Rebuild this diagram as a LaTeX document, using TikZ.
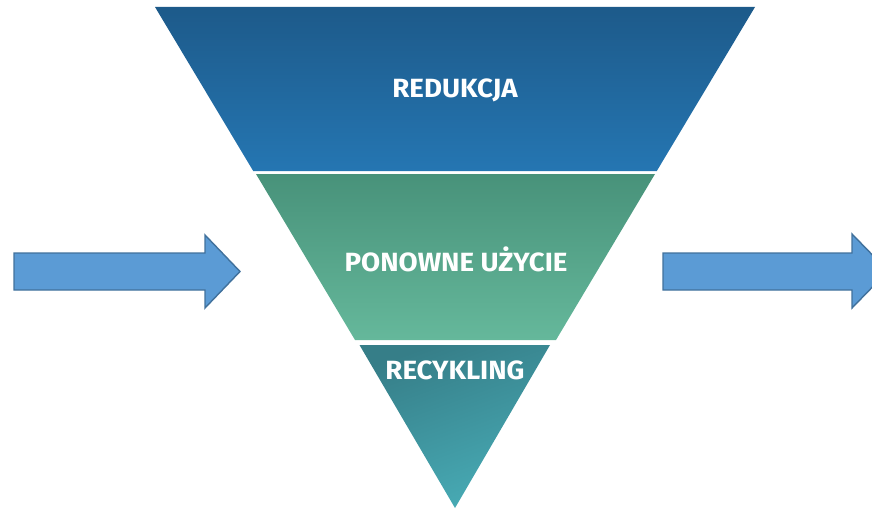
\documentclass[tikz,border=0pt]{standalone}
\usepackage{fontspec}
\setmainfont{Fira Sans}[FakeStretch=1.05]
\usetikzlibrary{shadings}

\definecolor{redtop}{RGB}{29,90,138}
\definecolor{redbot}{RGB}{37,118,178}
\definecolor{reusetop}{RGB}{72,146,122}
\definecolor{reusebot}{RGB}{101,184,155}
\definecolor{recytop}{RGB}{54,126,136}
\definecolor{recybot}{RGB}{72,172,182}
\definecolor{arrowfill}{RGB}{91,155,213}
\definecolor{arrowline}{RGB}{65,113,156}

\tikzset{
  level/.style   = { draw=none },
  levellabel/.style = { text=white, font=\fontsize{22.5}{24}\selectfont\bfseries },
  flow/.style    = { fill=arrowfill, draw=arrowline, line width=1.2pt, line join=miter }
}

\begin{document}
\begin{tikzpicture}[x=0.03cm, y=-0.03cm]
\useasboundingbox (0,0) rectangle (872,510);
\clip (0,0) rectangle (872,510);
% levels of the funnel
\shade[level, top color=redtop, bottom color=redbot]
  (155,7) -- (755,7) -- (656.8,171) -- (253.2,171) -- cycle;
\shade[level, top color=reusetop, bottom color=reusebot]
  (256,174) -- (655,174) -- (556,340) -- (355,340) -- cycle;
\shade[level, top color=recytop, bottom color=recybot, shading angle=20]
  (359.5,345) -- (550,345) -- (455,508) -- cycle;
\node[levellabel] (redukcja) at (455,90) {REDUKCJA};
\node[levellabel] (ponowne) at (456,259) {PONOWNE UŻYCIE};
\node[levellabel] (recykling) at (455,370) {RECYKLING};
% arrows
\draw[flow] (14,253) -- (205,253) -- (205,235) -- (240,271.5)
  -- (205,308) -- (205,290) -- (14,290) -- cycle;
\draw[flow] (663,253) -- (852,253) -- (852,234) -- (888,271)
  -- (852,308) -- (852,290) -- (663,290) -- cycle;
\end{tikzpicture}
\end{document}
